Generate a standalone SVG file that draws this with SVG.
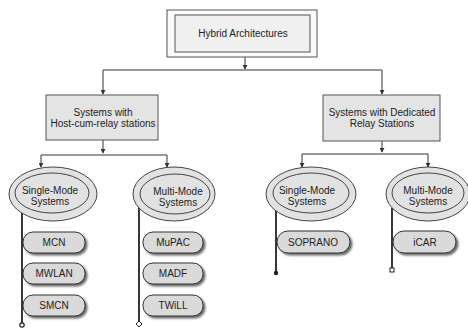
<svg xmlns="http://www.w3.org/2000/svg" width="468" height="333" viewBox="0 0 468 333">
<defs>
<marker id="ah" viewBox="0 0 6 6" refX="5" refY="3" markerWidth="5" markerHeight="5" orient="auto">
<path d="M0,0 L6,3 L0,6 z" fill="#333"/>
</marker>
<filter id="sh" x="-20%" y="-30%" width="150%" height="170%">
<feGaussianBlur in="SourceAlpha" stdDeviation="1"/>
<feOffset dx="1.5" dy="1.5" result="o"/>
<feComponentTransfer><feFuncA type="linear" slope="0.6"/></feComponentTransfer>
<feMerge><feMergeNode/><feMergeNode in="SourceGraphic"/></feMerge>
</filter>
</defs>
<style>
text{font-family:"Liberation Sans",Arial,sans-serif;font-size:10px;fill:#222;text-anchor:middle}
.ln{stroke:#333;stroke-width:1;fill:none}
.bx{fill:#e4e4e4;stroke:#555;stroke-width:1}
.el{fill:#e2e2e2;stroke:#444;stroke-width:1}
.pl{fill:#dadada;stroke:#333;stroke-width:1;filter:url(#sh)}
.vl{stroke:#222;stroke-width:1.8;fill:none}
</style>
<rect width="468" height="333" fill="#fff"/>
<g id="connectors">
<line class="ln" x1="245" y1="57" x2="245" y2="69" marker-end="url(#ah)"/>
<line class="ln" x1="103" y1="70" x2="382" y2="70"/>
<line class="ln" x1="103" y1="70" x2="103" y2="94" marker-end="url(#ah)"/>
<line class="ln" x1="382" y1="70" x2="382" y2="94" marker-end="url(#ah)"/>
<line class="ln" x1="103" y1="140" x2="103" y2="153" marker-end="url(#ah)"/>
<line class="ln" x1="41" y1="155" x2="167" y2="155"/>
<line class="ln" x1="41" y1="155" x2="41" y2="167" marker-end="url(#ah)"/>
<line class="ln" x1="167" y1="155" x2="167" y2="167" marker-end="url(#ah)"/>
<line class="ln" x1="382" y1="141" x2="382" y2="152" marker-end="url(#ah)"/>
<line class="ln" x1="302" y1="154" x2="428" y2="154"/>
<line class="ln" x1="302" y1="154" x2="302" y2="167" marker-end="url(#ah)"/>
<line class="ln" x1="428" y1="154" x2="428" y2="167" marker-end="url(#ah)"/>
<line class="vl" x1="22" y1="210" x2="22" y2="325"/>
<circle cx="22" cy="325" r="2.2" fill="#fff" stroke="#222" stroke-width="1.2"/>
<line class="vl" x1="139" y1="206" x2="139" y2="324"/>
<path d="M139,321 L142,324 L139,327 L136,324 z" fill="#fff" stroke="#222" stroke-width="1"/>
<line class="vl" x1="276" y1="209" x2="276" y2="272"/>
<circle cx="276" cy="273" r="2.2" fill="#222"/>
<line class="vl" x1="392" y1="208" x2="392" y2="269"/>
<rect x="390" y="268" width="4" height="4" fill="#fff" stroke="#222" stroke-width="1"/>
</g>
<g id="hybrid">
<rect x="167" y="10" width="150" height="47" fill="#fafafa" stroke="#555"/>
<rect x="175" y="15" width="135" height="37" fill="#f0f0f0" stroke="#555"/>
<text x="243" y="37">Hybrid Architectures</text>
</g>
<g id="host">
<rect class="bx" x="46" y="95" width="112" height="45"/>
<text x="103" y="116">Systems with</text>
<text x="103" y="127">Host-cum-relay stations</text>
</g>
<g id="dedicated">
<rect class="bx" x="323" y="95" width="117" height="46"/>
<text x="382" y="116">Systems with Dedicated</text>
<text x="382" y="127">Relay Stations</text>
</g>
<g id="single1">
<ellipse class="el" cx="53" cy="194" rx="44" ry="27"/>
<ellipse class="el" cx="52" cy="193" rx="37" ry="20"/>
<text x="50" y="194">Single-Mode</text>
<text x="50" y="205">Systems</text>
</g>
<g id="multi1">
<ellipse class="el" cx="174" cy="194" rx="41" ry="27"/>
<ellipse class="el" cx="175" cy="194" rx="35" ry="20"/>
<text x="178" y="195">Multi-Mode</text>
<text x="178" y="206">Systems</text>
</g>
<g id="single2">
<ellipse class="el" cx="311" cy="194" rx="45" ry="27"/>
<ellipse class="el" cx="311" cy="193" rx="38" ry="20"/>
<text x="307" y="194">Single-Mode</text>
<text x="307" y="205">Systems</text>
</g>
<g id="multi2">
<ellipse class="el" cx="428" cy="194" rx="42" ry="27"/>
<ellipse class="el" cx="428" cy="193" rx="36" ry="20"/>
<text x="428" y="194">Multi-Mode</text>
<text x="428" y="205">Systems</text>
</g>
<g id="mcn"><rect class="pl" x="23" y="232" width="62" height="21" rx="10"/><text x="54" y="246">MCN</text></g>
<g id="mwlan"><rect class="pl" x="23" y="263" width="62" height="21" rx="10"/><text x="54" y="277">MWLAN</text></g>
<g id="smcn"><rect class="pl" x="23" y="295" width="62" height="21" rx="10"/><text x="54" y="309">SMCN</text></g>
<g id="mupac"><rect class="pl" x="143" y="232" width="60" height="21" rx="10"/><text x="173" y="246">MuPAC</text></g>
<g id="madf"><rect class="pl" x="143" y="263" width="60" height="21" rx="10"/><text x="173" y="277">MADF</text></g>
<g id="twill"><rect class="pl" x="143" y="295" width="60" height="21" rx="10"/><text x="173" y="309">TWiLL</text></g>
<g id="soprano"><rect class="pl" x="277" y="231" width="73" height="22" rx="11"/><text x="313" y="246">SOPRANO</text></g>
<g id="icar"><rect class="pl" x="393" y="231" width="63" height="22" rx="11"/><text x="425" y="246">iCAR</text></g>
</svg>
